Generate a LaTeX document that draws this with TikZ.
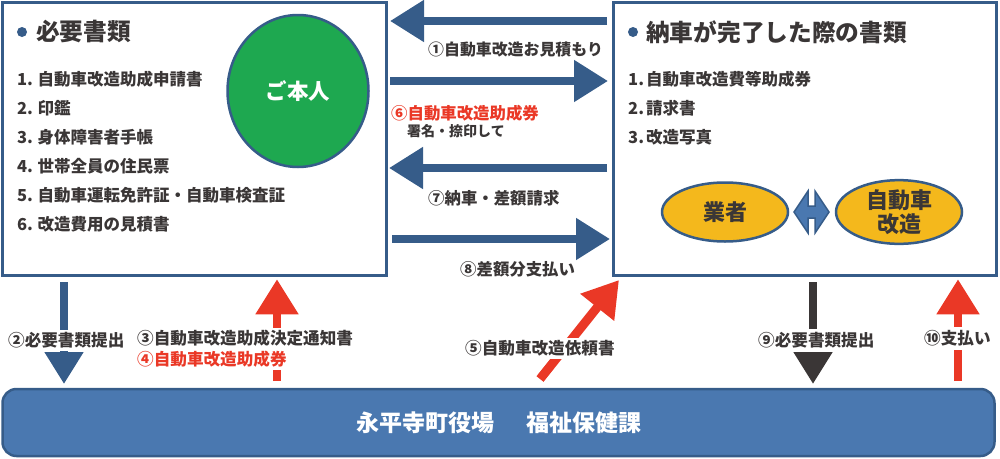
\documentclass[tikz,border=0pt]{standalone}
\usepackage{fontspec}
\usepackage{xcolor}
\setmainfont{Noto Sans CJK JP}
\usetikzlibrary{arrows.meta, calc}
\definecolor{navy}{HTML}{365C89}
\definecolor{barblue}{HTML}{4A78B0}
\definecolor{redarrow}{HTML}{EA3826}
\definecolor{ink}{HTML}{3A3636}
\definecolor{amber}{HTML}{F4B81C}
\definecolor{grass}{HTML}{1EA850}
\tikzset{
    panel/.style={draw=navy, line width=3.5pt, fill=white, inner sep=0pt},
    oval/.style={ellipse, draw=navy, line width=2.5pt, fill=amber, inner sep=0pt, text=ink, font=\fontsize{22}{24}\selectfont\bfseries, align=center},
    heading/.style={anchor=west, inner sep=0pt, text=ink, font=\fontsize{23.7}{26}\selectfont\bfseries},
    item/.style={anchor=west, inner sep=0pt, text=ink, font=\fontsize{16.5}{18}\selectfont\bfseries},
    lbl/.style={inner sep=0pt, minimum height=21pt, fill=white, text=ink, font=\fontsize{16.6}{18}\selectfont\bfseries},
    note/.style={anchor=west, inner sep=0pt, text=ink, font=\fontsize{16.4}{18}\selectfont\bfseries},
    dot/.style={circle, fill=navy, minimum size=10pt, inner sep=0pt},
    bluearrow/.style={navy, line width=8pt, -{Triangle[length=34pt,width=40pt]}},
    redblock/.style={redarrow, line width=8pt, -{Triangle[length=35pt,width=41pt]}},
}
\tikzstyle{darkarrow} = [ink, line width=8pt, -{Triangle[length=32pt,width=37pt]}]
\usetikzlibrary{shapes.geometric}
\begin{document}
\begin{tikzpicture}[x=1pt,y=-1pt]
    \useasboundingbox (0,0) rectangle (1000,458);

    \node[panel, minimum width=384pt, minimum height=273pt] (docs) at (194.5,139) {};
    \node[panel, minimum width=383pt, minimum height=273pt] (finish) at (805,139) {};
    \node[draw=navy, line width=2.5pt, fill=barblue, rounded corners=14pt, minimum width=992pt, minimum height=67pt, inner sep=0pt, text=white, font=\fontsize{23}{25}\selectfont\bfseries] (office) at (498.5,422.5) {永平寺町役場\hspace{32pt}福祉保健課};

    % left panel
    \node[dot] (dotL) at (22,32) {};
    \node[heading] (titleL) at (36,32) {必要書類};
    \foreach \i/\t [count=\n from 0] in {1/自動車改造助成申請書, 2/印鑑, 3/身体障害者手帳, 4/世帯全員の住民票, 5/自動車運転免許証・自動車検査証, 6/改造費用の見積書}
        \node[item] (docs\i) at (17,79+29*\n) {\i.\hspace{4.5pt}\t};
    \node[ellipse, draw=navy, line width=2.5pt, fill=grass, minimum width=141pt, minimum height=152pt, inner sep=0pt, text=white, font=\fontsize{21.5}{24}\selectfont\bfseries] (self) at (298,91) {ご本人};

    % right panel
    \node[dot] (dotR) at (633,32) {};
    \node[heading] (titleR) at (646,32) {納車が完了した際の書類};
    \foreach \i/\t [count=\n from 0] in {1/自動車改造費等助成券, 2/請求書, 3/改造写真}
        \node[item] (finish\i) at (628,79+29*\n) {\i.\hspace{2pt}\t};
    \node[oval, minimum width=126pt, minimum height=59pt] (dealer) at (725,212) {業者};
    \node[oval, minimum width=126pt, minimum height=59pt] (remodel) at (899,212) {自動車\\改造};
    \draw[navy, line width=1.5pt, fill=barblue, line join=miter] (794,212) -- (808,191) -- (808,206) -- (815,206) -- (815,191) -- (829,212) -- (815,233) -- (815,218) -- (808,218) -- (808,233) -- cycle;

    % arrows between the panels
    \draw[bluearrow, shorten <=4.75pt, shorten >=1.75pt] (finish.west |- 0,21) -- (docs.east |- 0,21);
    \draw[bluearrow, shorten <=1.75pt, shorten >=3.75pt] (docs.east |- 0,81) -- (finish.west |- 0,81);
    \draw[bluearrow, shorten <=4.75pt, shorten >=0.75pt] (finish.west |- 0,168) -- (docs.east |- 0,168);
    \draw[bluearrow, shorten <=3.75pt, shorten >=1.75pt] (docs.east |- 0,239) -- (finish.west |- 0,239);

    \node[note, font=\fontsize{15.9}{18}\selectfont\bfseries] (l1) at (428,50) {①自動車改造お見積もり};
    \node[note, text=redarrow] (l6) at (391,113) {⑥自動車改造助成券};
    \node[note, font=\fontsize{14}{16}\selectfont\bfseries] (l6b) at (407,131) {署名・捺印して};
    \node[note] (l7) at (428,198) {⑦納車・差額請求};
    \node[note] (l8) at (460,269) {⑧差額分支払い};

    % arrows to and from the office
    \draw[darkarrow, navy, shorten <=5pt, shorten >=3.75pt] (docs.south -| 64,0) -- (office.north -| 64,0);
    \draw[redblock, shorten <=6.75pt, shorten >=2pt] (office.north -| 277,0) -- (docs.south -| 277,0);
    \coordinate (a5tail) at (540,379);
    \coordinate (a5tip) at (619,280);
    \draw[redblock, line width=9pt] (a5tail) -- (a5tip);
    \draw[darkarrow, shorten <=5pt, shorten >=3.75pt] (finish.south -| 813,0) -- (office.north -| 813,0);
    \draw[redblock, shorten <=6.75pt, shorten >=2pt] (office.north -| 958,0) -- (finish.south -| 958,0);

    \node[lbl, anchor=west] (l2) at (8,340.5) {②必要書類提出};
    \node[lbl, anchor=west] (l3) at (137,338) {③自動車改造助成決定通知書};
    \node[lbl, anchor=west, text=redarrow] (l4) at (137,359) {④自動車改造助成券};
    \node[lbl, anchor=west] (l5) at (465,348) {⑤自動車改造依頼書};
    \node[lbl, anchor=west, minimum height=23pt] (l9) at (758,340.5) {⑨必要書類提出};
    \node[lbl, anchor=west, minimum height=23pt] (l10) at (924,338.5) {⑩支払い};
\end{tikzpicture}
\end{document}
